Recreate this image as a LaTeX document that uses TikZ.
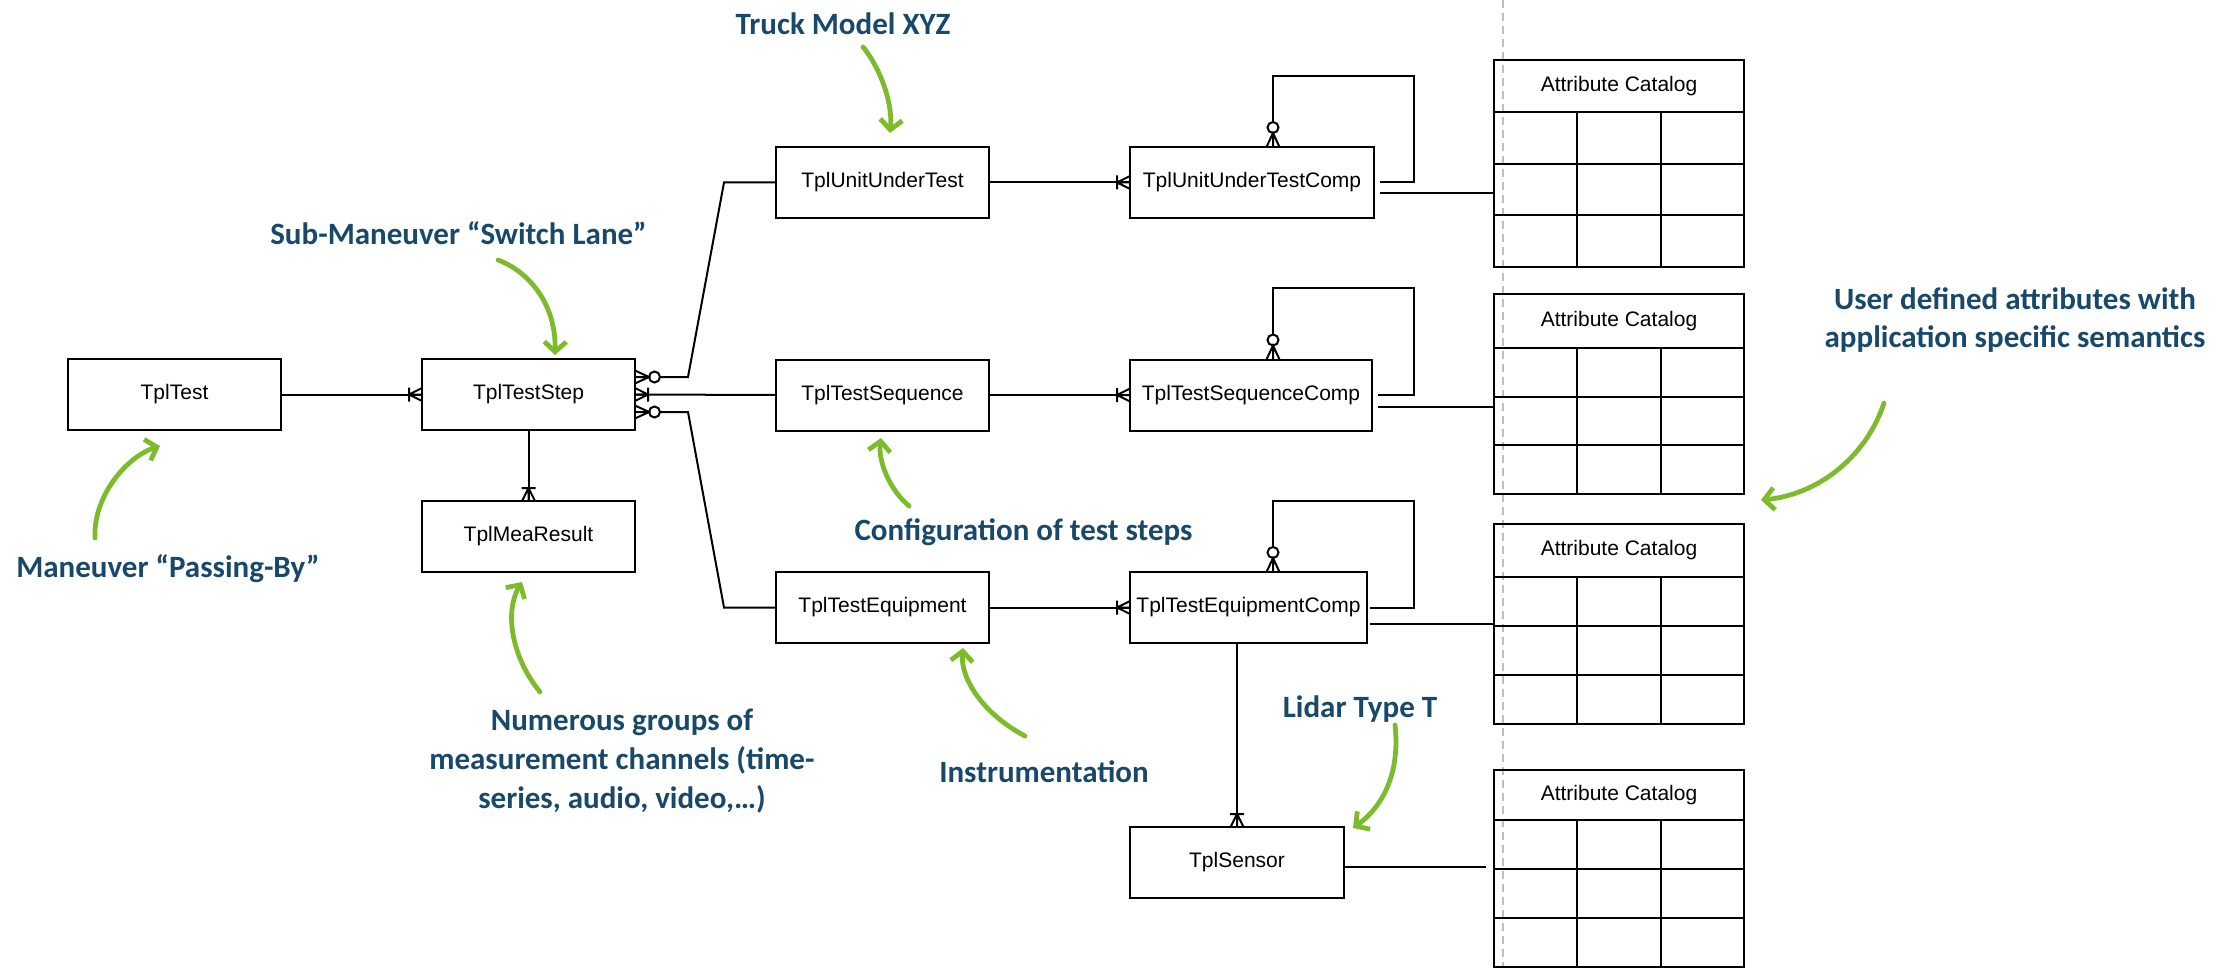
\documentclass[tikz,border=0pt]{standalone}
\usepackage{fontspec}
\setmainfont{Liberation Sans}
\newfontfamily\notefont{Carlito}
\usetikzlibrary{arrows.meta,calc}

\definecolor{notetext}{RGB}{24,72,106}
\definecolor{notegreen}{RGB}{125,187,45}
\definecolor{guide}{RGB}{190,190,190}

\tikzset{
  erbox/.style={draw, line width=1pt, inner sep=0pt, outer sep=0pt,
    minimum height=35.5pt, minimum width=106.5pt,
    font=\fontsize{10.5}{12}\selectfont},
  cathead/.style={draw, line width=1pt, inner sep=0pt, outer sep=0pt,
    minimum width=125pt, font=\fontsize{10.5}{12}\selectfont},
  catbody/.style={draw, line width=1pt, inner sep=0pt, outer sep=0pt,
    minimum width=125pt},
  cell/.style={line width=1pt},
  erline/.style={line width=1pt},
  note/.style={text=notetext, inner sep=0pt, align=center,
    font=\notefont\bfseries\fontsize{15.5}{19.5}\selectfont},
  callout/.style={draw=notegreen, line width=2.4pt, line cap=round,
    -{Straight Barb[length=5pt, width=11pt]}},
  guideline/.style={draw=guide, line width=1pt, dash pattern=on 4pt off 2.5pt},
  % crow's foot "one or many": crow plus bar, drawn outward along +x
  pics/onemany/.style={code={
    \draw[erline] (0,-6.5) -- (13,0) -- (0,6.5) (0,0) -- (13,0) (13,-7) -- (13,7);
  }},
  % crow's foot "zero or many": crow plus ring, drawn outward along +x
  pics/zeromany/.style={code={
    \draw[erline] (0,-6.5) -- (14,0) -- (0,6.5) (0,0) -- (14,0);
    \draw[erline] (19.5,0) circle[radius=5.5];
  }},
}

% attribute catalog table: name, top, header bottom, bottom (px)
\newcommand\attrcatalog[4]{%
  \node[cathead, minimum height={(#3-#2)*0.5pt}, anchor=north] (#1) at (1619,#2) {Attribute Catalog};
  \node[catbody, minimum height={(#4-#3)*0.5pt}, anchor=north] (#1b) at (#1.south) {};
  \foreach \f in {1,2}{
    \draw[cell] ($(#1b.north west)!\f/3!(#1b.south west)$) -- ($(#1b.north east)!\f/3!(#1b.south east)$);
    \draw[cell] ($(#1b.north west)!\f/3!(#1b.north east)$) -- ($(#1b.south west)!\f/3!(#1b.south east)$);
  }%
}

\begin{document}
\begin{tikzpicture}[x=0.5pt, y=-0.5pt]
\useasboundingbox (0,0) rectangle (2233,968);

% vertical guide
\draw[guideline] (1503,0) -- (1503,968);

% entities
\node[erbox] (test) at (174.5,394.5) {TplTest};
\node[erbox] (step) at (528.5,394.5) {TplTestStep};
\node[erbox] (mea) at (528.5,536.5) {TplMeaResult};
\node[erbox] (uut) at (882.5,182.5) {TplUnitUnderTest};
\node[erbox] (seq) at (882.5,395) {TplTestSequence};
\node[erbox] (equip) at (882.5,607.5) {TplTestEquipment};
\node[erbox, minimum width=122pt] (uutc) at (1252,182.5) {TplUnitUnderTestComp};
\node[erbox, minimum width=121pt] (seqc) at (1251,395) {TplTestSequenceComp};
\node[erbox, minimum width=118.5pt] (equipc) at (1248.5,607.5) {TplTestEquipmentComp};
\node[erbox, minimum width=107pt] (sensor) at (1237,862.5) {TplSensor};

% attribute catalogs
\attrcatalog{cat1}{60}{112}{267}
\attrcatalog{cat2}{294}{348}{494}
\attrcatalog{cat3}{524}{577}{724}
\attrcatalog{cat4}{770}{820}{967}

% relations
\draw[erline] (test.east) -- (step.west);
\pic[rotate=180] at (step.west) {onemany};

\coordinate (s1) at ($(step.east)+(0,-17.5)$);
\draw[erline, shorten <=12.5pt] (s1) -- ++(53,0) -- ($(uut.west)+(-52,0)$) -- (uut.west);
\pic at (s1) {zeromany};

\draw[erline] (step.east) -- (seq.west);
\pic at (step.east) {onemany};

\coordinate (s3) at ($(step.east)+(0,17.5)$);
\draw[erline, shorten <=12.5pt] (s3) -- ++(53,0) -- ($(equip.west)+(-52,0)$) -- (equip.west);
\pic at (s3) {zeromany};

\draw[erline] (step.south) -- (mea.north);
\pic[rotate=90] at (mea.north) {onemany};

\draw[erline] (uut.east) -- (uutc.west);
\pic[rotate=180] at (uutc.west) {onemany};
\draw[erline] (seq.east) -- (seqc.west);
\pic[rotate=180] at (seqc.west) {onemany};
\draw[erline] (equip.east) -- (equipc.west);
\pic[rotate=180] at (equipc.west) {onemany};

\draw[erline] (sensor.north |- equipc.south) -- (sensor.north);
\pic[rotate=90] at (sensor.north) {onemany};

% recursive component relations
\coordinate (l1) at ($(uutc.north)+(21,0)$);
\draw[erline, shorten <=12.5pt, shorten >=3pt] (l1) -- ++(0,-71) -- ++(141,0) |- (uutc.east);
\pic[rotate=90] at (l1) {zeromany};
\coordinate (l2) at ($(seqc.north)+(22,0)$);
\draw[erline, shorten <=12.5pt, shorten >=3pt] (l2) -- ++(0,-71) -- ++(141,0) |- (seqc.east);
\pic[rotate=90] at (l2) {zeromany};
\coordinate (l3) at ($(equipc.north)+(24.5,0)$);
\draw[erline, shorten <=12.5pt, shorten >=1.5pt] (l3) -- ++(0,-71) -- ++(141,0) |- (equipc.east);
\pic[rotate=90] at (l3) {zeromany};

% links to attribute catalogs
\coordinate (a1) at ($(uutc.east)+(0,10.5)$);
\draw[erline, shorten <=3pt] (a1) -- (a1 -| cat1b.west);
\coordinate (a2) at ($(seqc.east)+(0,12)$);
\draw[erline, shorten <=3pt] (a2) -- (a2 -| cat2b.west);
\coordinate (a3) at ($(equipc.east)+(0,16.5)$);
\draw[erline, shorten <=1.5pt] (a3) -- (a3 -| cat3b.west);
\coordinate (a4) at ($(sensor.east)+(0,4.5)$);
\draw[erline, shorten >=4pt] (a4) -- (a4 -| cat4b.west);

% annotations (multi-line notes are placed by their last baseline)
\node[note, anchor=base] (nManeuver) at (168,577) {Maneuver “Passing-By”};
\node[note, anchor=base] (nSub) at (458.5,245) {Sub-Maneuver “Switch Lane”};
\node[note, anchor=base] (nTruck) at (843,35) {Truck Model XYZ};
\node[note, anchor=base] (nConfig) at (1023.5,540) {Configuration of test steps};
\node[note, anchor=base] (nGroups) at (622,808) {Numerous groups of\\measurement channels (time-\\series, audio, video,…)};
\node[note, anchor=base] (nInstr) at (1044,782) {Instrumentation};
\node[note, anchor=base] (nLidar) at (1360,717) {Lidar Type T};
\node[note, anchor=base] (nUser) at (2015,348) {User defined attributes with\\application specific semantics};

\draw[callout] (95,538) .. controls (93,495) and (128,456) .. (160,446);
\draw[callout] (498,260) .. controls (530,272) and (556,305) .. (555,355);
\draw[callout] (863,47) .. controls (878,65) and (893,100) .. (890,133);
\draw[callout] (909,506) .. controls (890,490) and (878,462) .. (881,438);
\draw[callout] (540,692) .. controls (510,655) and (505,610) .. (522,582);
\draw[callout] (1025,736) .. controls (985,715) and (960,680) .. (963,648);
\draw[callout] (1395,725) .. controls (1400,770) and (1385,805) .. (1353,828);
\draw[callout] (1884,403) .. controls (1865,460) and (1815,495) .. (1761,500);
\end{tikzpicture}
\end{document}
